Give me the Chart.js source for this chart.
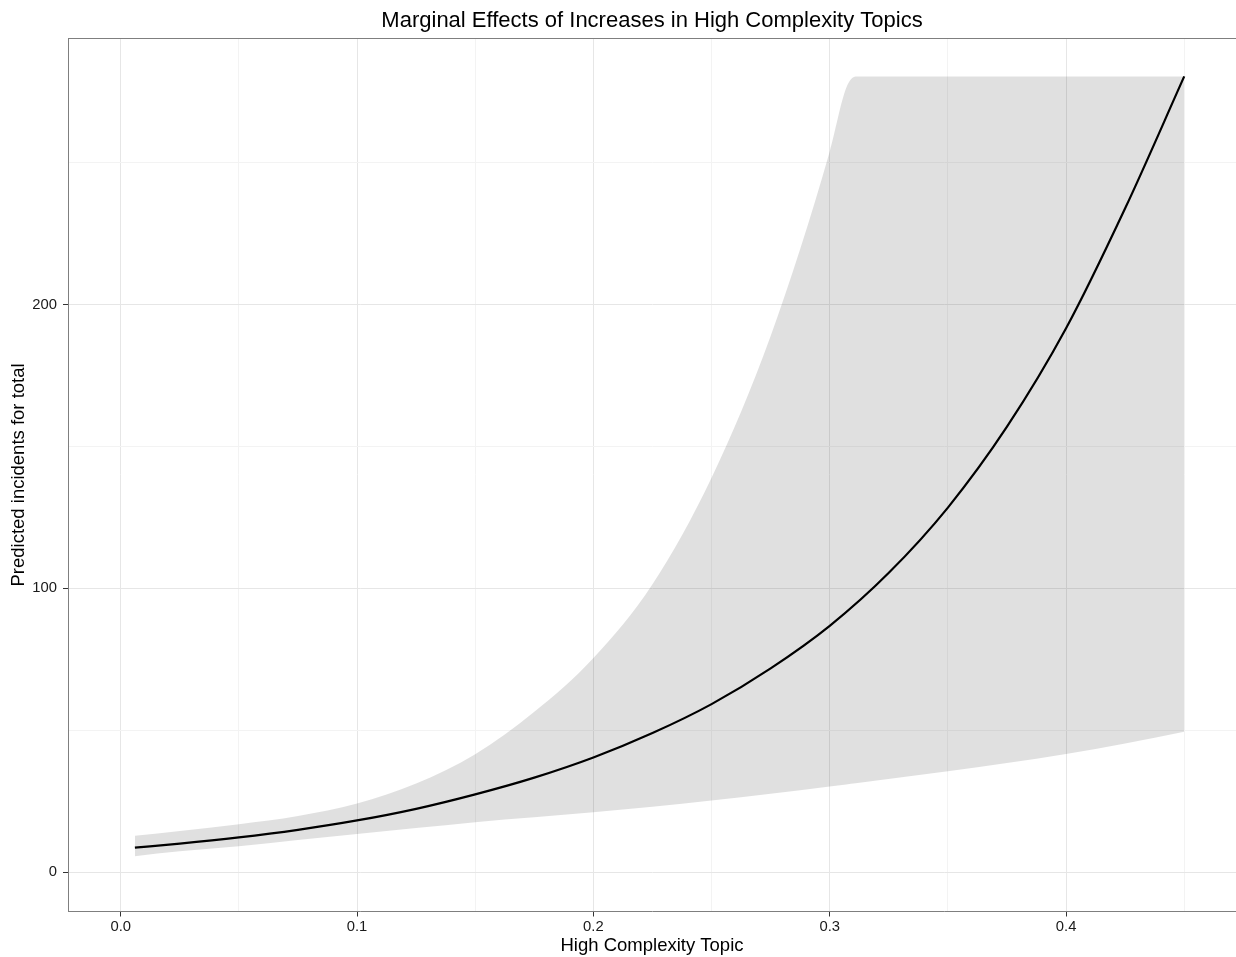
<!DOCTYPE html>
<html>
<head>
<meta charset="utf-8">
<title>Marginal Effects of Increases in High Complexity Topics</title>
<script src="https://cdn.jsdelivr.net/npm/chart.js@4.4.1/dist/chart.umd.min.js"></script>
<style>
  html, body { margin: 0; padding: 0; background: #ffffff; }
  #wrap { width: 1236px; height: 957px; }
  canvas { display: block; }
</style>
</head>
<body>
<div id="wrap"><canvas id="chart" width="1236" height="957"></canvas></div>
<script>
// Fitted curve: share of high complexity topics -> predicted incidents
const curveShare = [0.006, 0.025, 0.05, 0.075, 0.1, 0.125, 0.15, 0.175, 0.2, 0.225,
                    0.25, 0.275, 0.3, 0.325, 0.35, 0.375, 0.4, 0.425, 0.45];
const predicted  = [8.6, 10.0, 12.2, 14.9, 18.2, 22.3, 27.4, 33.3, 40.4, 49.0,
                    59.2, 71.8, 86.8, 105.5, 128.5, 157.0, 191.7, 234.0, 280.5];

// Confidence band: share -> upper / lower edge (upper edge capped at the top of the fit)
const bandShare  = [0.006, 0.025, 0.05, 0.075, 0.1, 0.125, 0.15, 0.175, 0.2, 0.225,
                    0.25, 0.275, 0.3, 0.307, 0.311, 0.35, 0.4, 0.425, 0.45];
const upperBound = [12.8, 14.5, 16.9, 19.8, 24.2, 31.2, 41.5, 56.5, 75.5, 101.5,
                    139.0, 189.0, 254.0, 276.5, 280.5, 280.5, 280.5, 280.5, 280.5];
const lowerBound = [5.6, 7.3, 9.1, 11.3, 13.4, 15.5, 17.6, 19.3, 21.1, 23.0,
                    25.2, 27.6, 30.2, 30.9, 31.3, 35.5, 41.6, 45.3, 49.5];

// Axis ticks
const xMajorTicks = [0, 0.1, 0.2, 0.3, 0.4];
const xMinorTicks = [0.05, 0.15, 0.25, 0.35, 0.45];
const xTickLabels = ['0.0', '0.1', '0.2', '0.3', '0.4'];
const yMajorTicks = [0, 100, 200];
const yMinorTicks = [50, 150, 250];
const yTickLabels = ['0', '100', '200'];

const FONT = "'Liberation Sans', Arial, Helvetica, sans-serif";
Chart.defaults.font.family = FONT;
Chart.defaults.color = '#1a1a1a';

const near = (a, b) => Math.abs(a - b) < 1e-9;
const majorIndex = (list, v) => list.findIndex(m => near(m, v));
const toPoints = (xs, ys) => xs.map((x, i) => ({ x: x, y: ys[i] }));

function tickSet(major, minor) {
  return major.concat(minor).sort((a, b) => a - b).map(v => ({ value: v }));
}

// Panel border along the top edge of the plotting area
const panelTopBorder = {
  id: 'panelTopBorder',
  afterDatasetsDraw(chart) {
    const { ctx, chartArea } = chart;
    const y = Math.floor(chartArea.top) + 0.5;
    ctx.save();
    ctx.strokeStyle = '#7f7f7f';
    ctx.lineWidth = 1;
    ctx.beginPath();
    ctx.moveTo(chartArea.left, y);
    ctx.lineTo(chartArea.right, y);
    ctx.stroke();
    ctx.restore();
  }
};

new Chart(document.getElementById('chart'), {
  type: 'line',
  data: {
    datasets: [
      {
        label: 'Predicted',
        data: toPoints(curveShare, predicted),
        borderColor: '#000000',
        borderWidth: 2.2,
        pointRadius: 0,
        fill: false,
        cubicInterpolationMode: 'monotone'
      },
      {
        label: 'Upper',
        data: toPoints(bandShare, upperBound),
        borderWidth: 0,
        borderColor: 'rgba(0,0,0,0)',
        backgroundColor: 'rgba(0,0,0,0.12)',
        pointRadius: 0,
        fill: '+1',
        cubicInterpolationMode: 'monotone'
      },
      {
        label: 'Lower',
        data: toPoints(bandShare, lowerBound),
        borderWidth: 0,
        borderColor: 'rgba(0,0,0,0)',
        pointRadius: 0,
        fill: false,
        cubicInterpolationMode: 'monotone'
      }
    ]
  },
  options: {
    responsive: false,
    animation: false,
    devicePixelRatio: 1,
    layout: { padding: { left: 0, right: 0, top: 0, bottom: 0 } },
    plugins: {
      legend: { display: false },
      tooltip: { enabled: false },
      title: {
        display: true,
        fullSize: false,
        text: 'Marginal Effects of Increases in High Complexity Topics',
        color: '#000000',
        font: { size: 22, weight: 'normal', family: FONT, lineHeight: 1.2 },
        padding: { top: 8, bottom: 4 }
      }
    },
    scales: {
      x: {
        type: 'linear',
        position: 'bottom',
        min: -0.0223,
        max: 0.4719,
        afterBuildTicks: scale => { scale.ticks = tickSet(xMajorTicks, xMinorTicks); },
        afterFit: scale => { scale.height = 45.5; },
        ticks: {
          autoSkip: false,
          maxRotation: 0,
          padding: 2,
          color: '#1a1a1a',
          font: { size: 14.8, family: FONT },
          callback: v => { const i = majorIndex(xMajorTicks, v); return i >= 0 ? xTickLabels[i] : ''; }
        },
        grid: {
          color: c => (c.tick && majorIndex(xMajorTicks, c.tick.value) >= 0) ? '#e6e6e6' : '#f3f3f3',
          lineWidth: 1,
          tickLength: 5,
          tickColor: c => (c.tick && majorIndex(xMajorTicks, c.tick.value) >= 0) ? '#333333' : 'rgba(0,0,0,0)',
          tickWidth: 1
        },
        border: { display: true, color: '#7f7f7f', width: 1 },
        title: {
          display: true,
          text: 'High Complexity Topic',
          color: '#000000',
          font: { size: 18.5, family: FONT, lineHeight: 1.2 },
          padding: { top: 0, bottom: 0 }
        }
      },
      y: {
        type: 'linear',
        position: 'left',
        min: -13.9,
        max: 293.9,
        afterBuildTicks: scale => { scale.ticks = tickSet(yMajorTicks, yMinorTicks); },
        afterFit: scale => { scale.width = 68; },
        ticks: {
          autoSkip: false,
          padding: 6,
          color: '#1a1a1a',
          font: { size: 14.8, family: FONT },
          callback: v => { const i = majorIndex(yMajorTicks, v); return i >= 0 ? yTickLabels[i] : ''; }
        },
        grid: {
          color: c => (c.tick && majorIndex(yMajorTicks, c.tick.value) >= 0) ? '#e6e6e6' : '#f3f3f3',
          lineWidth: 1,
          tickLength: 5,
          tickColor: c => (c.tick && majorIndex(yMajorTicks, c.tick.value) >= 0) ? '#333333' : 'rgba(0,0,0,0)',
          tickWidth: 1
        },
        border: { display: true, color: '#7f7f7f', width: 1 },
        title: {
          display: true,
          text: 'Predicted incidents for total',
          color: '#000000',
          font: { size: 18.5, family: FONT, lineHeight: 1.2 },
          padding: { top: 8, bottom: 0 }
        }
      }
    }
  },
  plugins: [panelTopBorder]
});
</script>
</body>
</html>
